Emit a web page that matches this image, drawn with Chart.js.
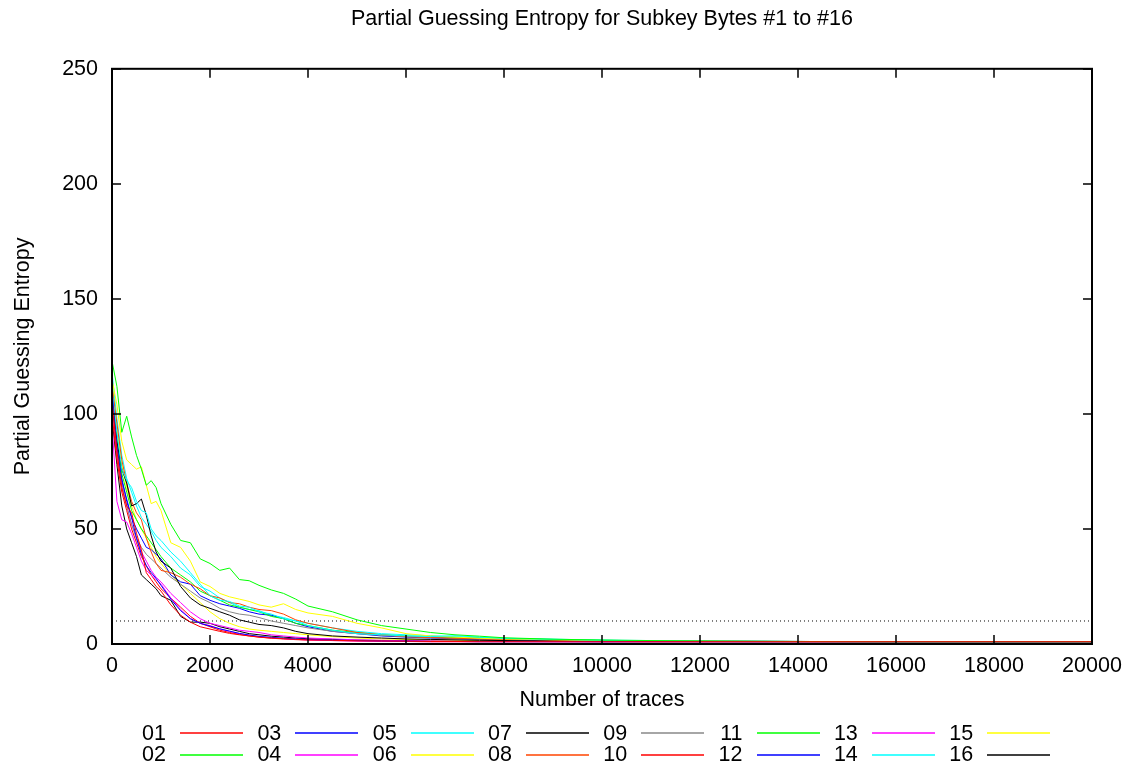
<!DOCTYPE html>
<html>
<head>
<meta charset="utf-8">
<title>Partial Guessing Entropy</title>
<script src="https://cdn.jsdelivr.net/npm/chart.js@4.4.0/dist/chart.umd.min.js"></script>
<style>
  html, body { margin: 0; padding: 0; background: #fff; }
  #wrap { width: 1134px; height: 771px; }
</style>
</head>
<body>
<div id="wrap"><canvas id="entropyChart" width="1134" height="771"></canvas></div>
<script>
const traces = [0, 100, 200, 300, 400, 500, 600, 700, 800, 900, 1000,
  1200, 1400, 1600, 1800, 2000, 2200, 2400, 2600, 2800, 3000,
  3250, 3500, 3750, 4000,
  4500, 5000, 5500, 6000, 6500, 7000, 7500, 8000,
  9000, 10000, 11000, 12000,
  14000, 16000, 18000, 20000];

// partial guessing entropy per subkey byte
const byte01 = [106, 84, 68, 60, 57, 48, 41, 31, 28, 25, 23,
  17, 12.5, 9.5, 7.5, 6.5, 5.5, 4.6, 4.0, 3.5, 3.0,
  2.6, 2.3, 2.0, 1.8,
  1.6, 1.4, 1.3, 1.2, 1.1, 1.1, 1.0, 1.0,
  1, 1, 1, 1, 1, 1, 1, 1];
const byte02 = [123, 112, 92, 99, 90, 82, 76, 69, 71, 68, 61,
  52, 45, 44, 37, 35, 32, 33, 28, 27.5, 25.5,
  23.5, 22, 19.5, 16.5,
  14, 10.5, 8, 6.5, 5, 4, 3.4, 2.7,
  2.1, 1.7, 1.5, 1.3, 1.1, 1, 1, 1];
const byte03 = [110, 86, 71, 63, 55, 46, 39, 34, 31, 28.5, 25.5,
  19.5, 14.5, 11, 9, 7.8, 6.6, 5.6, 4.6, 3.9, 3.3,
  2.9, 2.5, 2.2, 2.0,
  1.7, 1.5, 1.3, 1.2, 1.1, 1.1, 1, 1,
  1, 1, 1, 1, 1, 1, 1, 1];
const byte04 = [96, 62, 54, 53, 48, 42, 36, 32, 30, 28, 26,
  20, 15, 11, 9, 8, 6.5, 5.5, 4.5, 3.8, 3.2,
  2.7, 2.3, 2.0, 1.8,
  1.5, 1.3, 1.2, 1.1, 1, 1, 1, 1,
  1, 1, 1, 1, 1, 1, 1, 1];
const byte05 = [110, 92, 76, 71, 68, 62, 58, 57, 50, 47, 45,
  40, 36, 31, 26, 21, 19, 18.5, 16.5, 16, 14,
  13, 11, 10, 8,
  6, 4.5, 4, 3.5, 3.2, 3.6, 3, 2.4,
  2, 1.6, 1.4, 1.2, 1.1, 1, 1, 1];
const byte06 = [115, 104, 88, 80, 78, 76, 77, 69, 61, 62, 58,
  44, 42, 36, 27, 25, 22, 20.5, 19.5, 18.5, 17,
  16, 17.5, 15, 13.5,
  12, 9, 7, 4.5, 3.5, 3, 2.5, 2.2,
  1.8, 1.5, 1.3, 1.2, 1, 1, 1, 1];
const byte07 = [104, 88, 76, 70, 60, 61, 63, 56, 47, 40, 36,
  33, 25, 20, 17, 15.5, 14, 12.5, 10.5, 9.5, 8.5,
  8, 7, 5.5, 4.5,
  3.5, 3, 2.6, 2.2, 2, 1.8, 1.6, 1.5,
  1.3, 1.2, 1.1, 1.1, 1, 1, 1, 1];
const byte08 = [112, 96, 80, 70, 62, 57, 54, 46, 40, 35, 32,
  31, 29, 26, 24, 21, 20, 18, 17.5, 16, 15,
  14.5, 13, 10.5, 9,
  7, 5, 4, 3.2, 2.8, 2.5, 2.2, 2,
  1.7, 1.5, 1.3, 1.2, 1.1, 1, 1, 1];
const byte09 = [104, 86, 70, 60, 52, 46, 42, 39, 37, 35, 33,
  29, 26, 23, 20, 18, 15.5, 14, 13, 12.5, 11.5,
  10, 9, 8, 7,
  5.5, 4.5, 3.8, 3.2, 2.8, 2.5, 2.2, 2,
  1.7, 1.5, 1.3, 1.2, 1.1, 1, 1, 1];
const byte10 = [100, 80, 66, 58, 50, 44, 38, 34, 30, 27, 24,
  20, 16, 12, 9, 7.5, 6, 5, 4.2, 3.5, 3,
  2.5, 2.2, 1.9, 1.7,
  1.5, 1.3, 1.2, 1.1, 1, 1, 1, 1,
  1, 1, 1, 1, 1, 1, 1, 1];
const byte11 = [108, 90, 74, 66, 58, 54, 50, 47, 44, 41, 38,
  33, 30, 27, 23, 21, 19, 17, 16, 15, 14,
  12, 11, 9, 8,
  6, 5, 4, 3.5, 3, 2.8, 2.6, 2.2,
  1.9, 1.6, 1.4, 1.2, 1.1, 1, 1, 1];
const byte12 = [106, 88, 72, 62, 55, 50, 46, 42, 41, 39, 37,
  30, 27, 26, 21, 19, 17.5, 16.5, 15.5, 14, 13,
  12.5, 11, 9, 7.5,
  5.5, 4.5, 3.5, 3, 2.6, 2.3, 2, 1.8,
  1.6, 1.4, 1.3, 1.2, 1.1, 1, 1, 1];
const byte13 = [102, 82, 68, 60, 52, 46, 40, 36, 32, 29, 27,
  22, 18, 14, 11, 9, 8, 7, 6, 5.5, 5,
  4, 3.5, 3, 2.6,
  2.2, 1.8, 1.6, 1.4, 1.3, 1.2, 1.1, 1.1,
  1, 1, 1, 1, 1, 1, 1, 1];
const byte14 = [118, 98, 82, 72, 66, 60, 55, 52, 49, 45, 42,
  38, 33, 30, 25, 23, 20, 18, 16, 15, 14.5,
  12.5, 11.5, 10, 9,
  7, 5.5, 4.5, 4, 3.6, 3.2, 2.8, 2.5,
  2.1, 1.7, 1.5, 1.3, 1.1, 1, 1, 1];
const byte15 = [114, 94, 78, 68, 60, 54, 50, 46, 42, 38, 35,
  30, 26, 22, 18, 14, 11, 9, 7.5, 6.5, 6,
  5.5, 5, 4.5, 4,
  3.2, 2.6, 2.2, 2, 1.8, 1.6, 1.4, 1.3,
  1.2, 1.1, 1, 1, 1, 1, 1, 1];
const byte16 = [98, 78, 60, 50, 44, 38, 30, 28, 26, 24, 21,
  19, 12, 9.5, 9.5, 9, 7.5, 6.5, 5.5, 4.5, 4,
  3.4, 3, 2.6, 2.3,
  2, 1.7, 1.5, 1.4, 1.3, 1.2, 1.1, 1.1,
  1.1, 1, 1, 1, 1, 1, 1, 1];

const byteNames = ['01', '02', '03', '04', '05', '06', '07', '08',
  '09', '10', '11', '12', '13', '14', '15', '16'];
const byteValues = [byte01, byte02, byte03, byte04, byte05, byte06, byte07, byte08,
  byte09, byte10, byte11, byte12, byte13, byte14, byte15, byte16];
const byteColors = ['#ff0000', '#00ff00', '#0000ff', '#ff00ff', '#00ffff', '#ffff00', '#000000', '#ff4500',
  '#888888', '#ff0000', '#00ff00', '#0000ff', '#ff00ff', '#00ffff', '#ffff00', '#000000'];

const threshold = 10;
const xTicks = [0, 2000, 4000, 6000, 8000, 10000, 12000, 14000, 16000, 18000, 20000];
const yTicks = [0, 50, 100, 150, 200, 250];

const font = { family: "'Liberation Sans', Arial, sans-serif", size: 21.5, weight: 'normal' };

// gnuplot style border, inward ticks on all sides and the key below the plot
const frameAndKey = {
  id: 'frameAndKey',
  afterDatasetsDraw(chart) {
    const { ctx, chartArea: a, scales: { x, y } } = chart;
    ctx.save();
    ctx.strokeStyle = '#000';
    ctx.lineWidth = 1.5;
    ctx.beginPath();
    xTicks.forEach(v => {
      const px = Math.round(x.getPixelForValue(v));
      ctx.moveTo(px, a.bottom); ctx.lineTo(px, a.bottom - 9);
      ctx.moveTo(px, a.top); ctx.lineTo(px, a.top + 9);
    });
    yTicks.forEach(v => {
      const py = Math.round(y.getPixelForValue(v));
      ctx.moveTo(a.left, py); ctx.lineTo(a.left + 9, py);
      ctx.moveTo(a.right, py); ctx.lineTo(a.right - 9, py);
    });
    ctx.stroke();
    ctx.lineWidth = 2;
    ctx.strokeRect(a.left, a.top, a.right - a.left, a.bottom - a.top);

    // key: two rows, filled column by column
    ctx.font = font.size + 'px ' + font.family;
    ctx.textAlign = 'right';
    ctx.textBaseline = 'middle';
    byteNames.forEach((name, i) => {
      const col = Math.floor(i / 2), row = i % 2;
      const tx = 166 + col * 115.3;
      const ty = 734 + row * 21.5;
      ctx.fillStyle = '#000';
      ctx.fillText(name, tx, ty);
      ctx.strokeStyle = byteColors[i];
      ctx.lineWidth = 1.5;
      ctx.beginPath();
      ctx.moveTo(Math.round(tx + 14), Math.round(ty) - 1);
      ctx.lineTo(Math.round(tx + 77), Math.round(ty) - 1);
      ctx.stroke();
    });
    ctx.restore();
  }
};

const datasets = byteValues.map((vals, i) => ({
  label: byteNames[i],
  data: traces.map((t, k) => ({ x: t, y: vals[k] })),
  borderColor: byteColors[i],
  borderWidth: 1,
  pointRadius: 0,
  tension: 0,
  fill: false
}));
datasets.push({
  label: 'threshold',
  data: [{ x: 0, y: threshold }, { x: 20000, y: threshold }],
  borderColor: '#000',
  borderWidth: 1,
  borderDash: [1, 3],
  pointRadius: 0,
  fill: false
});

const ctx = document.getElementById('entropyChart').getContext('2d');
new Chart(ctx, {
  type: 'line',
  data: { datasets: datasets },
  options: {
    responsive: false,
    animation: false,
    events: [],
    layout: { padding: { top: 0, right: 42, bottom: 0, left: 0 } },
    plugins: {
      legend: { display: false },
      tooltip: { enabled: false },
      title: {
        display: true,
        fullSize: false,
        text: 'Partial Guessing Entropy for Subkey Bytes #1 to #16',
        color: '#000',
        font: font,
        padding: { top: 6, bottom: 37 }
      }
    },
    scales: {
      x: {
        type: 'linear',
        min: 0,
        max: 20000,
        afterBuildTicks: s => { s.ticks = xTicks.map(v => ({ value: v })); },
        afterFit: s => { s.height = 127; },
        grid: { display: false, drawTicks: false, tickLength: 0 },
        border: { display: false },
        ticks: { color: '#000', font: font, padding: 9.5, maxRotation: 0, autoSkip: false,
          callback: v => String(v) },
        title: { display: true, text: 'Number of traces', color: '#000', font: font, padding: { top: 0, bottom: 58 } }
      },
      y: {
        min: 0,
        max: 250,
        afterBuildTicks: s => { s.ticks = yTicks.map(v => ({ value: v })); },
        afterFit: s => { s.width = 112; },
        grid: { display: false, drawTicks: false, tickLength: 0 },
        border: { display: false },
        ticks: { color: '#000', font: font, padding: 14, callback: v => String(v) },
        title: { display: true, text: 'Partial Guessing Entropy', color: '#000', font: font, padding: { top: 10, bottom: 0 } }
      }
    }
  },
  plugins: [frameAndKey]
});
</script>
</body>
</html>
